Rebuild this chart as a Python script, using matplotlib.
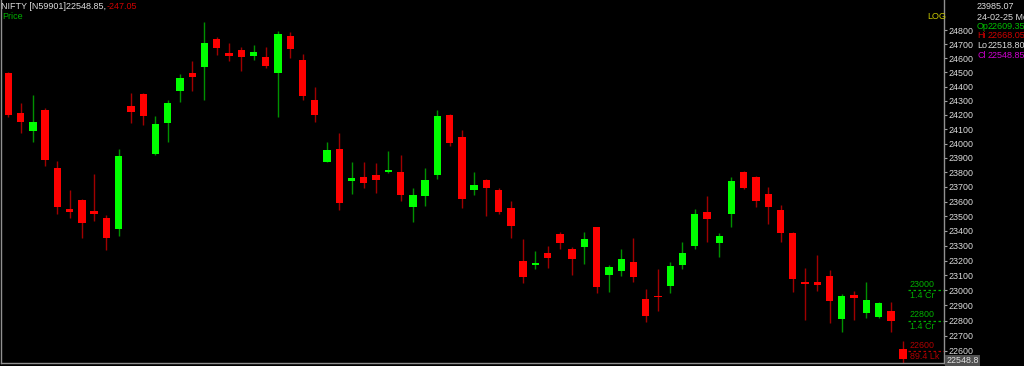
import numpy as np
import matplotlib
matplotlib.use("Agg")
import matplotlib.pyplot as plt

plt.rcParams['font.family'] = ['Liberation Sans', 'DejaVu Sans']

# daily OHLC, NIFTY (last bar = 24-02-25)
opens = [24494, 24213, 24089, 24234, 23830, 23547, 23610, 23533, 23490, 23414,
         24260, 24349, 23928, 24145, 24372, 24494, 24539, 24737, 24639, 24659,
         24620, 24611, 24499, 24759, 24589, 24305, 23875, 23963, 23742, 23772,
         23784, 23802, 23802, 23561, 23641, 23784, 24201, 24049, 23682, 23749,
         23680, 23554, 23200, 23169, 23254, 23380, 23279, 23294, 23425, 23102,
         23129, 23189, 22943, 22965, 23030, 23171, 23297, 23531, 23321, 23513,
         23804, 23768, 23653, 23545, 23387, 23055, 23059, 23099, 22808, 22969,
         22850, 22822, 22863, 22609.35]
highs = [24506, 24283, 24342, 24248, 23880, 23680, 23617, 23788, 23508, 23961,
         24358, 24356, 24194, 24307, 24487, 24582, 24861, 24756, 24713, 24682,
         24696, 24682, 24799, 24787, 24630, 24400, 24013, 24073, 23875, 23871,
         23864, 23949, 23921, 23692, 23830, 24236, 24208, 24096, 23802, 23755,
         23692, 23604, 23346, 23267, 23301, 23396, 23294, 23396, 23429, 23171,
         23279, 23355, 23007, 23142, 23187, 23328, 23552, 23639, 23385, 23768,
         23808, 23777, 23699, 23575, 23391, 23153, 23238, 23135, 22976, 22996,
         23054, 22925, 22921, 22668.05]
lows = [24189, 24073, 24013, 23846, 23515, 23486, 23355, 23468, 23272, 23367,
        24143, 24129, 23921, 24013, 24288, 24372, 24302, 24625, 24584, 24513,
        24589, 24530, 24185, 24606, 24306, 24154, 23873, 23542, 23653, 23692,
        23658, 23797, 23604, 23463, 23570, 23754, 23983, 23558, 23644, 23501,
        23513, 23351, 23052, 23142, 23153, 23277, 23105, 23180, 22985, 22987,
        23095, 23056, 22792, 22863, 22985, 23144, 23281, 23324, 23227, 23429,
        23687, 23561, 23447, 23324, 22991, 22804, 22998, 22782, 22726, 22804,
        22819, 22817, 22726, 22518.80]
closes = [24201, 24150, 24150, 23887, 23561, 23531, 23456, 23517, 23351, 23915,
          24224, 24196, 24138, 24281, 24459, 24466, 24713, 24677, 24620, 24611,
          24649, 24547, 24775, 24668, 24336, 24201, 23956, 23589, 23761, 23729,
          23751, 23820, 23644, 23648, 23751, 24196, 24006, 23618, 23713, 23692,
          23531, 23432, 23088, 23183, 23214, 23317, 23207, 23348, 23025, 23158,
          23209, 23092, 22832, 22956, 23166, 23254, 23513, 23481, 23367, 23744,
          23696, 23605, 23563, 23385, 23077, 23045, 23034, 22930, 22965, 22950,
          22938, 22914, 22795, 22548.85]

yticks = list(range(22600, 24900, 100))
levels = [23000, 22800, 22600]
level_vols = ['1.4 Cr', '1.4 Cr', '89.4 Lk']
level_cols = ['#00b000', '#00b000', '#b00000']

fig = plt.figure(figsize=(10.24, 3.66), dpi=100, facecolor='black')
ax = fig.add_axes([0.001, 3 / 366, 943 / 1024, 363 / 366])
ax.set_facecolor('black')

x = np.arange(len(opens))
o = np.array(opens); h = np.array(highs); l = np.array(lows); c = np.array(closes)
up = c >= o
body_col = np.where(up, '#00ff00', '#ff0000')
wick_col = np.where(up, '#009000', '#a00000')

ax.vlines(x, l, h, colors=wick_col, lw=1, zorder=2)
ax.bar(x, np.abs(c - o), bottom=np.minimum(o, c), width=0.6,
       color=body_col, zorder=3)

ax.set_yscale('log')
ax.set_ylim(22521, 25020)
ax.set_xlim(-0.6, 76.34)
ax.set_yticks(yticks, labels=[str(t) for t in yticks])
ax.minorticks_off()
ax.set_xticks([])
ax.yaxis.tick_right()
ax.tick_params(axis='y', colors='#a0a0a0', labelcolor='#dcdcdc',
               labelsize=6.4, length=2, pad=1)

ax.spines['top'].set_visible(False)
for s in ['left', 'right', 'bottom']:
    ax.spines[s].set_color('#909090')
    ax.spines[s].set_linewidth(1)

# volume-at-level markers on the right
for lev, vol, col in zip(levels, level_vols, level_cols):
    ax.hlines(lev, 73.4, 76.34, colors=col, lw=0.9, linestyles=(0, (2, 2)))
    ax.text(73.55, lev * 1.0003, str(lev), color=col, fontsize=6.4,
            ha='left', va='bottom')
    ax.text(73.55, lev * 0.9997, vol, color=col, fontsize=6.4,
            ha='left', va='top')

# last price box, sits at the bottom of the price scale
fig.text(946.5 / 1024, 5.3 / 366, '22548.8', color='#e0e0e0', fontsize=6.4,
         ha='left', va='center',
         bbox=dict(boxstyle='square,pad=0.12', fc='#505050', ec='none'))

# header texts
fig.text(0.001, 1 - 6.5 / 366, 'NIFTY [N59901]22548.85, ', color='#dcdcdc',
         fontsize=6.5, va='center')
fig.text(107 / 1024, 1 - 6.5 / 366, '-247.05', color='#d00000',
         fontsize=6.5, va='center')
fig.text(0.002, 1 - 16.5 / 366, 'Price', color='#00b000', fontsize=6.5,
         va='center')
fig.text(927 / 1024, 1 - 16.7 / 366, 'LOG', color='#c8c800', fontsize=6.5,
         va='center')

# info panel
info = [('23985.07', '', '#dcdcdc', 6.7),
        ('24-02-25 Mo', '', '#dcdcdc', 17.3),
        ('Op', '22609.35', '#00c000', 26.7),
        ('Hi', '22668.05', '#d00000', 36.0),
        ('Lo', '22518.80', '#dcdcdc', 45.3),
        ('Cl', '22548.85', '#d000d0', 55.0)]
for lab, val, col, yy in info:
    fig.text(977 / 1024, 1 - yy / 366, lab, color=col, fontsize=6.5,
             va='center')
    if val:
        fig.text(988 / 1024, 1 - yy / 366, val, color=col, fontsize=6.5,
                 va='center')

fig.savefig('out.png', dpi=100, facecolor='black')
